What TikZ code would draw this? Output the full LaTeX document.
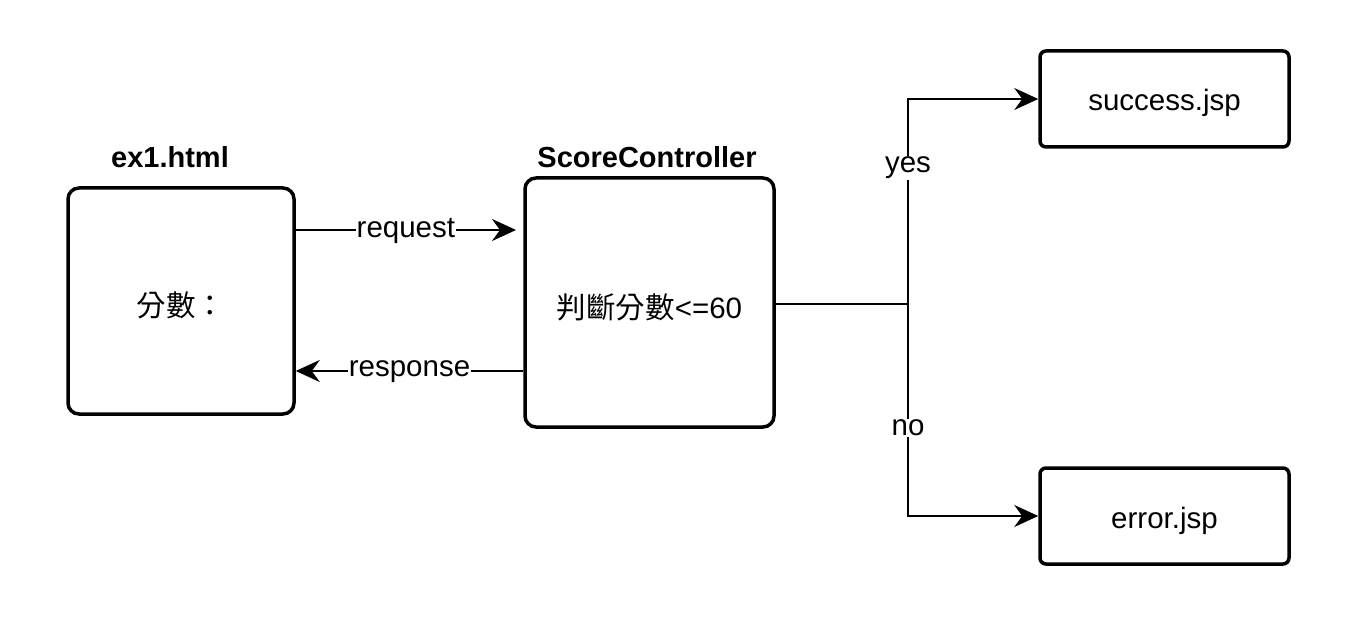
\documentclass[tikz,border=0pt]{standalone}
\usepackage{fontspec}
\setmainfont{Liberation Sans}
\newfontfamily\cjk{Noto Sans CJK TC}
\usetikzlibrary{arrows.meta}
\begin{document}
\begin{tikzpicture}[x=1pt,y=-1pt,
  bigbox/.style={draw, line width=3.5pt, rounded corners=11pt, inner sep=0pt, fill=white},
  smallbox/.style={draw, line width=3.5pt, rounded corners=6pt, inner sep=0pt, fill=white, minimum width=249pt, minimum height=96pt},
  conn/.style={line width=2pt, -{Stealth[length=24pt, width=22pt, inset=8pt]}},
  plain/.style={line width=2pt},
  lbl/.style={fill=white, inner sep=1pt, font=\fontsize{29.5pt}{34pt}\selectfont},
  ttl/.style={font=\fontsize{29pt}{34pt}\selectfont\bfseries},
  txt/.style={font=\fontsize{29.5pt}{34pt}\selectfont}
]
\useasboundingbox (0,0) rectangle (1358,631);
\fill[white] (0,0) rectangle (1358,631);

\node[bigbox, minimum width=226pt, minimum height=226pt] (ex1) at (181,301) {};
\node[txt] (ex1t) at (181,305) {\cjk 分數：};
\node[ttl] (ex1title) at (170,157) {ex1.html};

\node[bigbox, minimum width=249pt, minimum height=249pt] (sc) at (649.5,302.5) {};
\node[txt] (sct) at (649.5,307) {\cjk 判斷分數\normalfont<=60};
\node[ttl] (sctitle) at (647,157) {ScoreController};

\node[smallbox] (succ) at (1164.5,99) {};
\node[txt] (succt) at (1164.5,103) {success.jsp};
\node[smallbox] (err) at (1164.5,516) {};
\node[txt] (errt) at (1164.5,521) {error.jsp};

\coordinate (reqA) at (ex1.east |- 0,230);
\coordinate (reqB) at (516,230);
\draw[conn] (reqA) -- node[lbl, yshift=-1pt] (reql) {request} (reqB);

\coordinate (resA) at (sc.west |- 0,371);
\coordinate (resB) at (ex1.east |- 0,371);
\draw[conn] (resA) -- node[lbl, yshift=-1pt] (resl) {response} (resB);

\coordinate (br) at (908,304);
\draw[plain] (sc.east |- br) -- (br);
\draw[conn] (br) |- (succ.west);
\draw[conn] (br) |- (err.west);
\node[lbl] (yes) at (908,168) {yes};
\node[lbl] (no) at (908,428) {no};
\end{tikzpicture}
\end{document}
